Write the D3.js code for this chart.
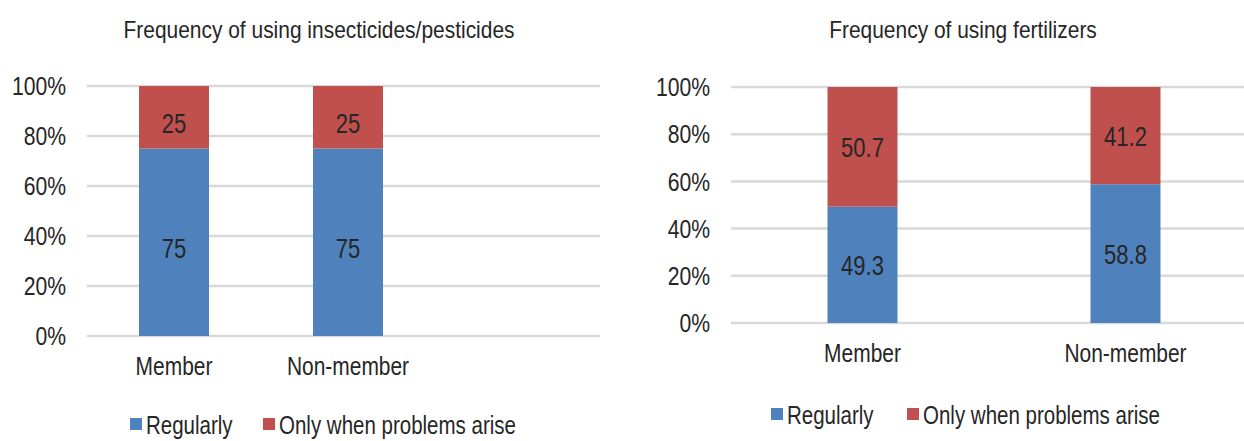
<!DOCTYPE html>
<html>
<head>
<meta charset="utf-8">
<script src="https://cdn.jsdelivr.net/npm/d3@7"></script>
<style>
  body { margin: 0; background: #fff; }
  svg text { font-family: "Liberation Sans", Arial, sans-serif; fill: #262626; }
</style>
</head>
<body>
<div id="chart"></div>
<script>
const seriesNames = ["Regularly", "Only when problems arise"];
const seriesColors = ["#4f81bd", "#c0504d"];
const yTicks = [0, 20, 40, 60, 80, 100];

const pestTitle = "Frequency of using insecticides/pesticides";
const pestCategories = ["Member", "Non-member"];
const pestRegularly = [75, 75];
const pestProblems = [25, 25];

const fertTitle = "Frequency of using fertilizers";
const fertCategories = ["Member", "Non-member"];
const fertRegularly = [49.3, 58.8];
const fertProblems = [50.7, 41.2];

const W = 1244, H = 441;
const narrow = 0.8; // squeeze glyphs to mimic the condensed face

const svg = d3.select("#chart").append("svg")
    .attr("width", W)
    .attr("height", H);

// text placed at (x, y) and squeezed horizontally
function label(sel, x, y, sx) {
    return sel.attr("transform", (d, i) => {
        const xx = typeof x === "function" ? x(d, i) : x;
        const yy = typeof y === "function" ? y(d, i) : y;
        return `translate(${xx},${yy}) scale(${sx},1)`;
    });
}

function drawChart(opt) {
    const g = svg.append("g");

    const x = d3.scaleBand()
        .domain(opt.categories)
        .range(opt.xRange)
        .padding(0);
    const y = d3.scaleLinear()
        .domain([0, 100])
        .range(opt.yRange);

    // title
    g.append("text")
        .attr("text-anchor", "middle")
        .style("font-size", "24.5px")
        .text(opt.title)
        .call(label, opt.titleX, 38, 0.855);

    // gridlines
    g.selectAll(".grid")
      .data(yTicks)
      .join("line")
        .attr("class", "grid")
        .attr("x1", opt.xRange[0])
        .attr("x2", opt.gridEnd)
        .attr("y1", d => y(d))
        .attr("y2", d => y(d))
        .style("stroke", "#d9d9d9")
        .style("stroke-width", 2.5);

    // y tick labels
    g.selectAll(".ytick")
      .data(yTicks)
      .join("text")
        .attr("class", "ytick")
        .attr("dy", "0.36em")
        .attr("text-anchor", "end")
        .style("font-size", "25.5px")
        .text(d => d + "%")
        .call(label, opt.xRange[0] - 21, d => y(d), 0.83);

    // stacked data
    const rows = opt.categories.map((c, i) => ({cat: c, Regularly: opt.regular[i], Problems: opt.problems[i]}));
    const layers = d3.stack().keys(["Regularly", "Problems"])(rows);
    const barW = 70;
    const bx = d => x(d.data.cat) + (x.bandwidth() - barW) / 2;

    layers.forEach((layer, k) => {
        g.selectAll(".bar" + k)
          .data(layer)
          .join("rect")
            .attr("class", "bar" + k)
            .attr("x", bx)
            .attr("width", barW)
            .attr("y", d => y(d[1]))
            .attr("height", d => y(d[0]) - y(d[1]))
            .style("fill", seriesColors[k]);

        g.selectAll(".lbl" + k)
          .data(layer)
          .join("text")
            .attr("class", "lbl" + k)
            .attr("dy", "0.36em")
            .attr("text-anchor", "middle")
            .style("font-size", "27.5px")
            .text(d => +(d[1] - d[0]).toFixed(1))
            .call(label, d => bx(d) + barW / 2, d => (y(d[0]) + y(d[1])) / 2 + opt.labelShift, narrow);
    });

    // category labels
    g.selectAll(".cat")
      .data(opt.categories)
      .join("text")
        .attr("class", "cat")
        .attr("text-anchor", "middle")
        .style("font-size", "26.5px")
        .text(d => d)
        .call(label, d => x(d) + x.bandwidth() / 2, opt.yRange[0] + opt.catGap, 0.79);

    // legend
    const leg = g.append("g")
        .attr("transform", `translate(${opt.legendX},${opt.legendY})`);
    const offsets = [0, opt.legendGap];
    seriesNames.forEach((name, i) => {
        leg.append("rect")
            .attr("x", offsets[i])
            .attr("y", -6)
            .attr("width", 12)
            .attr("height", 12)
            .style("fill", seriesColors[i]);
        leg.append("text")
            .attr("dy", "0.36em")
            .style("font-size", "25px")
            .text(name)
            .call(label, offsets[i] + 16, 1, 0.82);
    });
}

drawChart({
    title: pestTitle, titleX: 319,
    categories: pestCategories, regular: pestRegularly, problems: pestProblems,
    xRange: [87, 435], gridEnd: 600, yRange: [336, 86],
    labelShift: 6, catGap: 39,
    legendX: 130, legendY: 424, legendGap: 133
});

drawChart({
    title: fertTitle, titleX: 963,
    categories: fertCategories, regular: fertRegularly, problems: fertProblems,
    xRange: [731, 1257], gridEnd: 1257, yRange: [323, 87],
    labelShift: 0, catGap: 39,
    legendX: 771, legendY: 414, legendGap: 136
});
</script>
</body>
</html>
